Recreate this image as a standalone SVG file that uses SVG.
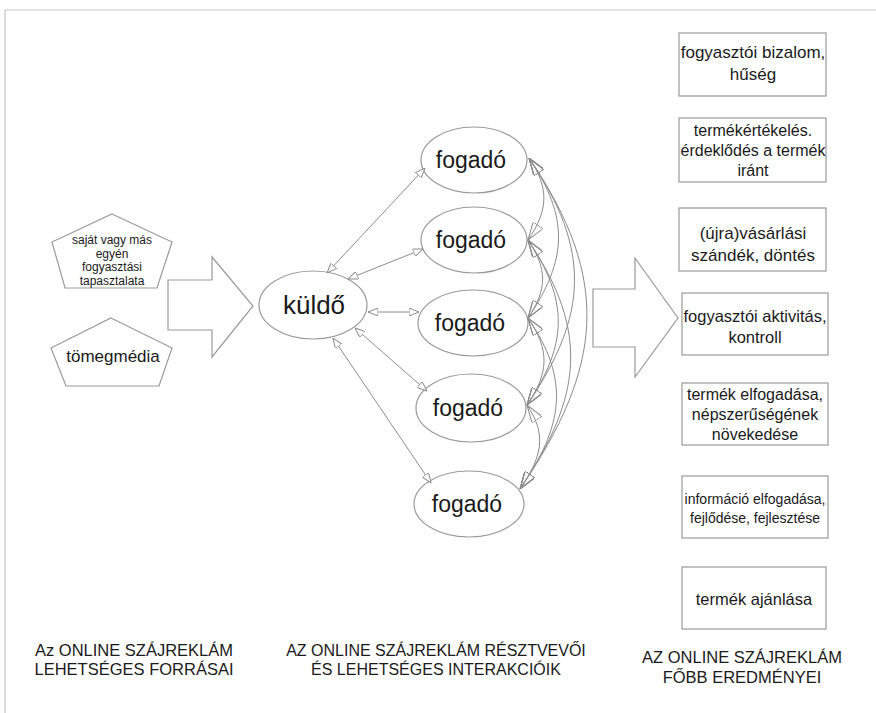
<svg xmlns="http://www.w3.org/2000/svg" width="876" height="713" viewBox="0 0 876 713">
  <style>
    .shape { fill: #ffffff; stroke: #9a9a9a; stroke-width: 1.2; }
    .txt { font-family: "Liberation Sans", Arial, sans-serif; fill: #1a1a1a; text-anchor: middle; }
    .link { fill: none; stroke: #8c8c8c; stroke-width: 1; }
    .page { stroke: #c4c4c4; stroke-width: 1.2; fill: none; }
  </style>
  <defs>
    <marker id="tip" viewBox="0 0 10 8" refX="10" refY="4" markerWidth="10" markerHeight="8" markerUnits="userSpaceOnUse" orient="auto-start-reverse">
      <path d="M0,0 L10,4 L0,8 Z" fill="#ffffff" stroke="#8c8c8c" stroke-width="1"/>
    </marker>
    <marker id="tipBig" viewBox="0 0 18 12" refX="18" refY="6" markerWidth="18" markerHeight="12" markerUnits="userSpaceOnUse" orient="auto-start-reverse">
      <path d="M0,0 L18,6 L0,12 Z" fill="none" stroke="#8c8c8c" stroke-width="1"/>
    </marker>
  </defs>

  <rect width="876" height="713" fill="#ffffff"/>
  <!-- page frame -->
  <path class="page" d="M5,713 L5,10 L876,10"/>

  <!-- sources -->
  <g id="source-experience">
    <polygon class="shape" points="112,214 172,242 157,288 65,288 52,242"/>
    <text class="txt" font-size="12" x="112" y="244">saját vagy más</text>
    <text class="txt" font-size="12" x="112" y="258">egyén</text>
    <text class="txt" font-size="12" x="112" y="271">fogyasztási</text>
    <text class="txt" font-size="12" x="112" y="285">tapasztalata</text>
  </g>
  <g id="source-massmedia">
    <polygon class="shape" points="111,318 172,348 159,386 66,386 51,348"/>
    <text class="txt" font-size="17" x="113" y="362">tömegmédia</text>
  </g>

  <g id="arrow-in">
    <polygon class="shape" points="168,280 212,280 212,257 253,306 212,357 212,330 168,330"/>
  </g>
  <g id="arrow-out">
    <polygon class="shape" points="593,289 635,289 635,258 678,318 635,377 635,347 593,347"/>
  </g>

  <!-- participants -->
  <g id="sender">
    <ellipse class="shape" cx="313" cy="305" rx="54" ry="34"/>
    <text class="txt" font-size="26" x="314" y="314">küldő</text>
  </g>
  <g id="receiver-1">
    <ellipse class="shape" cx="474" cy="160" rx="53" ry="33"/>
    <text class="txt" font-size="23" x="471" y="168">fogadó</text>
  </g>
  <g id="receiver-2">
    <ellipse class="shape" cx="474" cy="240" rx="53" ry="33"/>
    <text class="txt" font-size="23" x="471" y="248">fogadó</text>
  </g>
  <g id="receiver-3">
    <ellipse class="shape" cx="473" cy="323" rx="55" ry="33"/>
    <text class="txt" font-size="23" x="470" y="331">fogadó</text>
  </g>
  <g id="receiver-4">
    <ellipse class="shape" cx="471" cy="408" rx="55" ry="34"/>
    <text class="txt" font-size="23" x="468" y="416">fogadó</text>
  </g>
  <g id="receiver-5">
    <ellipse class="shape" cx="469" cy="504" rx="55" ry="33"/>
    <text class="txt" font-size="23" x="467" y="512">fogadó</text>
  </g>

  <!-- interactions: sender to each receiver, then receivers among themselves -->
  <g id="connectors">
    <line class="link" x1="327" y1="273" x2="425" y2="168" marker-start="url(#tip)" marker-end="url(#tip)"/>
    <line class="link" x1="348" y1="279" x2="423" y2="249" marker-start="url(#tip)" marker-end="url(#tip)"/>
    <line class="link" x1="368" y1="312" x2="419" y2="312" marker-start="url(#tip)" marker-end="url(#tip)"/>
    <line class="link" x1="355" y1="328" x2="427" y2="391" marker-start="url(#tip)" marker-end="url(#tip)"/>
    <line class="link" x1="333" y1="338" x2="431" y2="483" marker-start="url(#tip)" marker-end="url(#tip)"/>

    <path class="link" d="M529,158 C549.5,188 548.5,210 528,240" marker-start="url(#tipBig)" marker-end="url(#tipBig)"/>
    <path class="link" d="M529,158 C569,217 568,259 528,318" marker-start="url(#tipBig)" marker-end="url(#tipBig)"/>
    <path class="link" d="M529,158 C591,249 589,314 527,405" marker-start="url(#tipBig)" marker-end="url(#tipBig)"/>
    <path class="link" d="M529,158 C612,280 603,367 520,489" marker-start="url(#tipBig)" marker-end="url(#tipBig)"/>
    <path class="link" d="M528,240 C547.5,269 547.5,289 528,318" marker-start="url(#tipBig)" marker-end="url(#tipBig)"/>
    <path class="link" d="M528,240 C569,301 568,344 527,405" marker-start="url(#tipBig)" marker-end="url(#tipBig)"/>
    <path class="link" d="M528,240 C590,332 582,397 520,489" marker-start="url(#tipBig)" marker-end="url(#tipBig)"/>
    <path class="link" d="M528,318 C550,350 549,373 527,405" marker-start="url(#tipBig)" marker-end="url(#tipBig)"/>
    <path class="link" d="M528,318 C571,381 563,426 520,489" marker-start="url(#tipBig)" marker-end="url(#tipBig)"/>
    <path class="link" d="M527,405 C548,436 541,458 520,489" marker-start="url(#tipBig)" marker-end="url(#tipBig)"/>
  </g>

  <!-- outcomes -->
  <g id="outcome-1">
    <rect class="shape" x="679" y="33" width="147" height="63"/>
    <text class="txt" font-size="17" x="753" y="58">fogyasztói bizalom,</text>
    <text class="txt" font-size="17" x="753" y="80">hűség</text>
  </g>
  <g id="outcome-2">
    <rect class="shape" x="679" y="118" width="147" height="64"/>
    <text class="txt" font-size="16" x="753" y="136">termékértékelés.</text>
    <text class="txt" font-size="16" x="753" y="156">érdeklődés a termék</text>
    <text class="txt" font-size="16" x="753" y="176">iránt</text>
  </g>
  <g id="outcome-3">
    <rect class="shape" x="679" y="208" width="147" height="63"/>
    <text class="txt" font-size="17" x="753" y="239">(újra)vásárlási</text>
    <text class="txt" font-size="17" x="753" y="261">szándék, döntés</text>
  </g>
  <g id="outcome-4">
    <rect class="shape" x="682" y="293" width="146" height="62"/>
    <text class="txt" font-size="16.5" x="755" y="322">fogyasztói aktivitás,</text>
    <text class="txt" font-size="16.5" x="755" y="343">kontroll</text>
  </g>
  <g id="outcome-5">
    <rect class="shape" x="682" y="383" width="146" height="62"/>
    <text class="txt" font-size="16" x="755" y="400">termék elfogadása,</text>
    <text class="txt" font-size="16" x="755" y="420">népszerűségének</text>
    <text class="txt" font-size="16" x="755" y="440">növekedése</text>
  </g>
  <g id="outcome-6">
    <rect class="shape" x="682" y="476" width="146" height="62"/>
    <text class="txt" font-size="14" x="755" y="504">információ elfogadása,</text>
    <text class="txt" font-size="14" x="755" y="523">fejlődése, fejlesztése</text>
  </g>
  <g id="outcome-7">
    <rect class="shape" x="682" y="567" width="144" height="62"/>
    <text class="txt" font-size="16.5" x="754" y="605">termék ajánlása</text>
  </g>

  <!-- column captions -->
  <g id="caption-sources">
    <text class="txt" font-size="16.5" x="134" y="656">Az ONLINE SZÁJREKLÁM</text>
    <text class="txt" font-size="16.5" x="134" y="675">LEHETSÉGES FORRÁSAI</text>
  </g>
  <g id="caption-participants">
    <text class="txt" font-size="16" x="436" y="656">AZ ONLINE SZÁJREKLÁM RÉSZTVEVŐI</text>
    <text class="txt" font-size="16" x="436" y="675">ÉS LEHETSÉGES INTERAKCIÓIK</text>
  </g>
  <g id="caption-outcomes">
    <text class="txt" font-size="16.5" x="742" y="663">AZ ONLINE SZÁJREKLÁM</text>
    <text class="txt" font-size="16.5" x="742" y="683">FŐBB EREDMÉNYEI</text>
  </g>
</svg>
